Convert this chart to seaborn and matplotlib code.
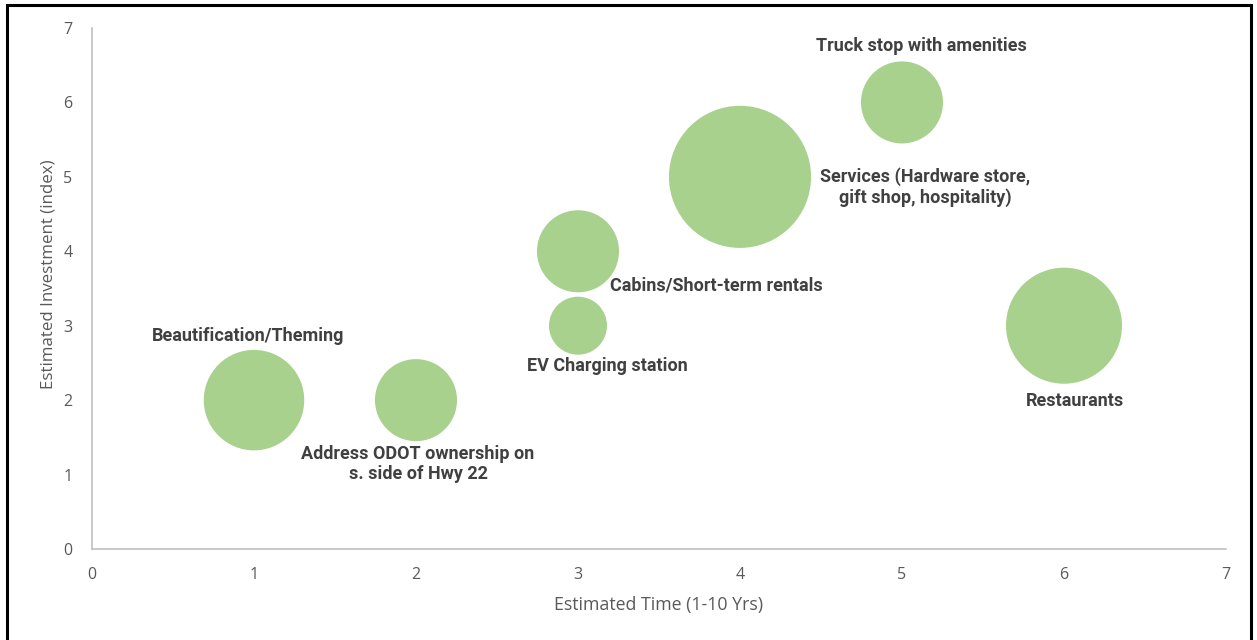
import matplotlib
matplotlib.use("Agg")
import matplotlib.pyplot as plt
import seaborn as sns
import pandas as pd
from matplotlib.patches import Rectangle

# Data
names = ["Beautification/Theming", "Address ODOT ownership on\ns. side of Hwy 22",
         "EV Charging station", "Cabins/Short-term rentals",
         "Services (Hardware store,\ngift shop, hospitality)",
         "Truck stop with amenities", "Restaurants"]
time_yrs = [1, 2, 3, 3, 4, 5, 6]
investment = [2, 2, 3, 4, 5, 6, 3]
bubble_size = [3, 2, 1, 2, 6, 2, 4]
# label offsets in pixels (dx right, dy down)
label_dx = [-6, 2, 29, 138, 185, 19, 11]
label_dy = [-64, 64, 40, 34, 10, -56, 75]

df = pd.DataFrame({"name": names, "x": time_yrs, "y": investment, "s": bubble_size})

sns.set_style("white")
plt.rcParams['font.family'] = ['Open Sans', 'DejaVu Sans']

fig = plt.figure(figsize=(12.57, 6.4), dpi=100)
ax = fig.add_axes([92/1257, 1-549/640, (1226-92)/1257, (549-28)/640])

base = 1745
sns.scatterplot(data=df, x="x", y="y", size="s", sizes=(base*min(bubble_size), base*max(bubble_size)),
                size_norm=(min(bubble_size), max(bubble_size)),
                color="#a9d18e", alpha=1, edgecolor="none", linewidth=0, legend=False, ax=ax, zorder=3)

for n, x, y, dx, dy in zip(names, time_yrs, investment, label_dx, label_dy):
    ax.annotate(n, (x, y), xytext=(dx, -dy), textcoords="offset pixels",
                ha="center", va="center", fontsize=13, fontweight="bold",
                color="#404040", family=["Roboto", "DejaVu Sans"], zorder=4,
                linespacing=1.15)

ax.set_xlim(0, 7)
ax.set_ylim(0, 7)
ax.set_xticks(range(0, 8))
ax.set_yticks(range(0, 8))
ax.tick_params(axis="both", length=0, labelsize=11.5, labelcolor="#595959")
ax.tick_params(axis="x", pad=13)
ax.tick_params(axis="y", pad=14)
for s in ["top", "right"]:
    ax.spines[s].set_visible(False)
for s in ["left", "bottom"]:
    ax.spines[s].set_color("#bfbfbf")
    ax.spines[s].set_linewidth(1.2)
ax.set_xlabel("Estimated Time (1-10 Yrs)", fontsize=12.8, color="#595959", labelpad=9)
ax.set_ylabel("Estimated Investment (index)", fontsize=12.2, color="#595959")
ax.yaxis.set_label_coords(-0.031, 0.528)

fig.patches.append(Rectangle((7/1257, -0.01), (1251-7)/1257, 1-5/640+0.01, transform=fig.transFigure,
                             fill=False, edgecolor="black", linewidth=2.2, clip_on=False))

fig.savefig("out.png", dpi=100)
